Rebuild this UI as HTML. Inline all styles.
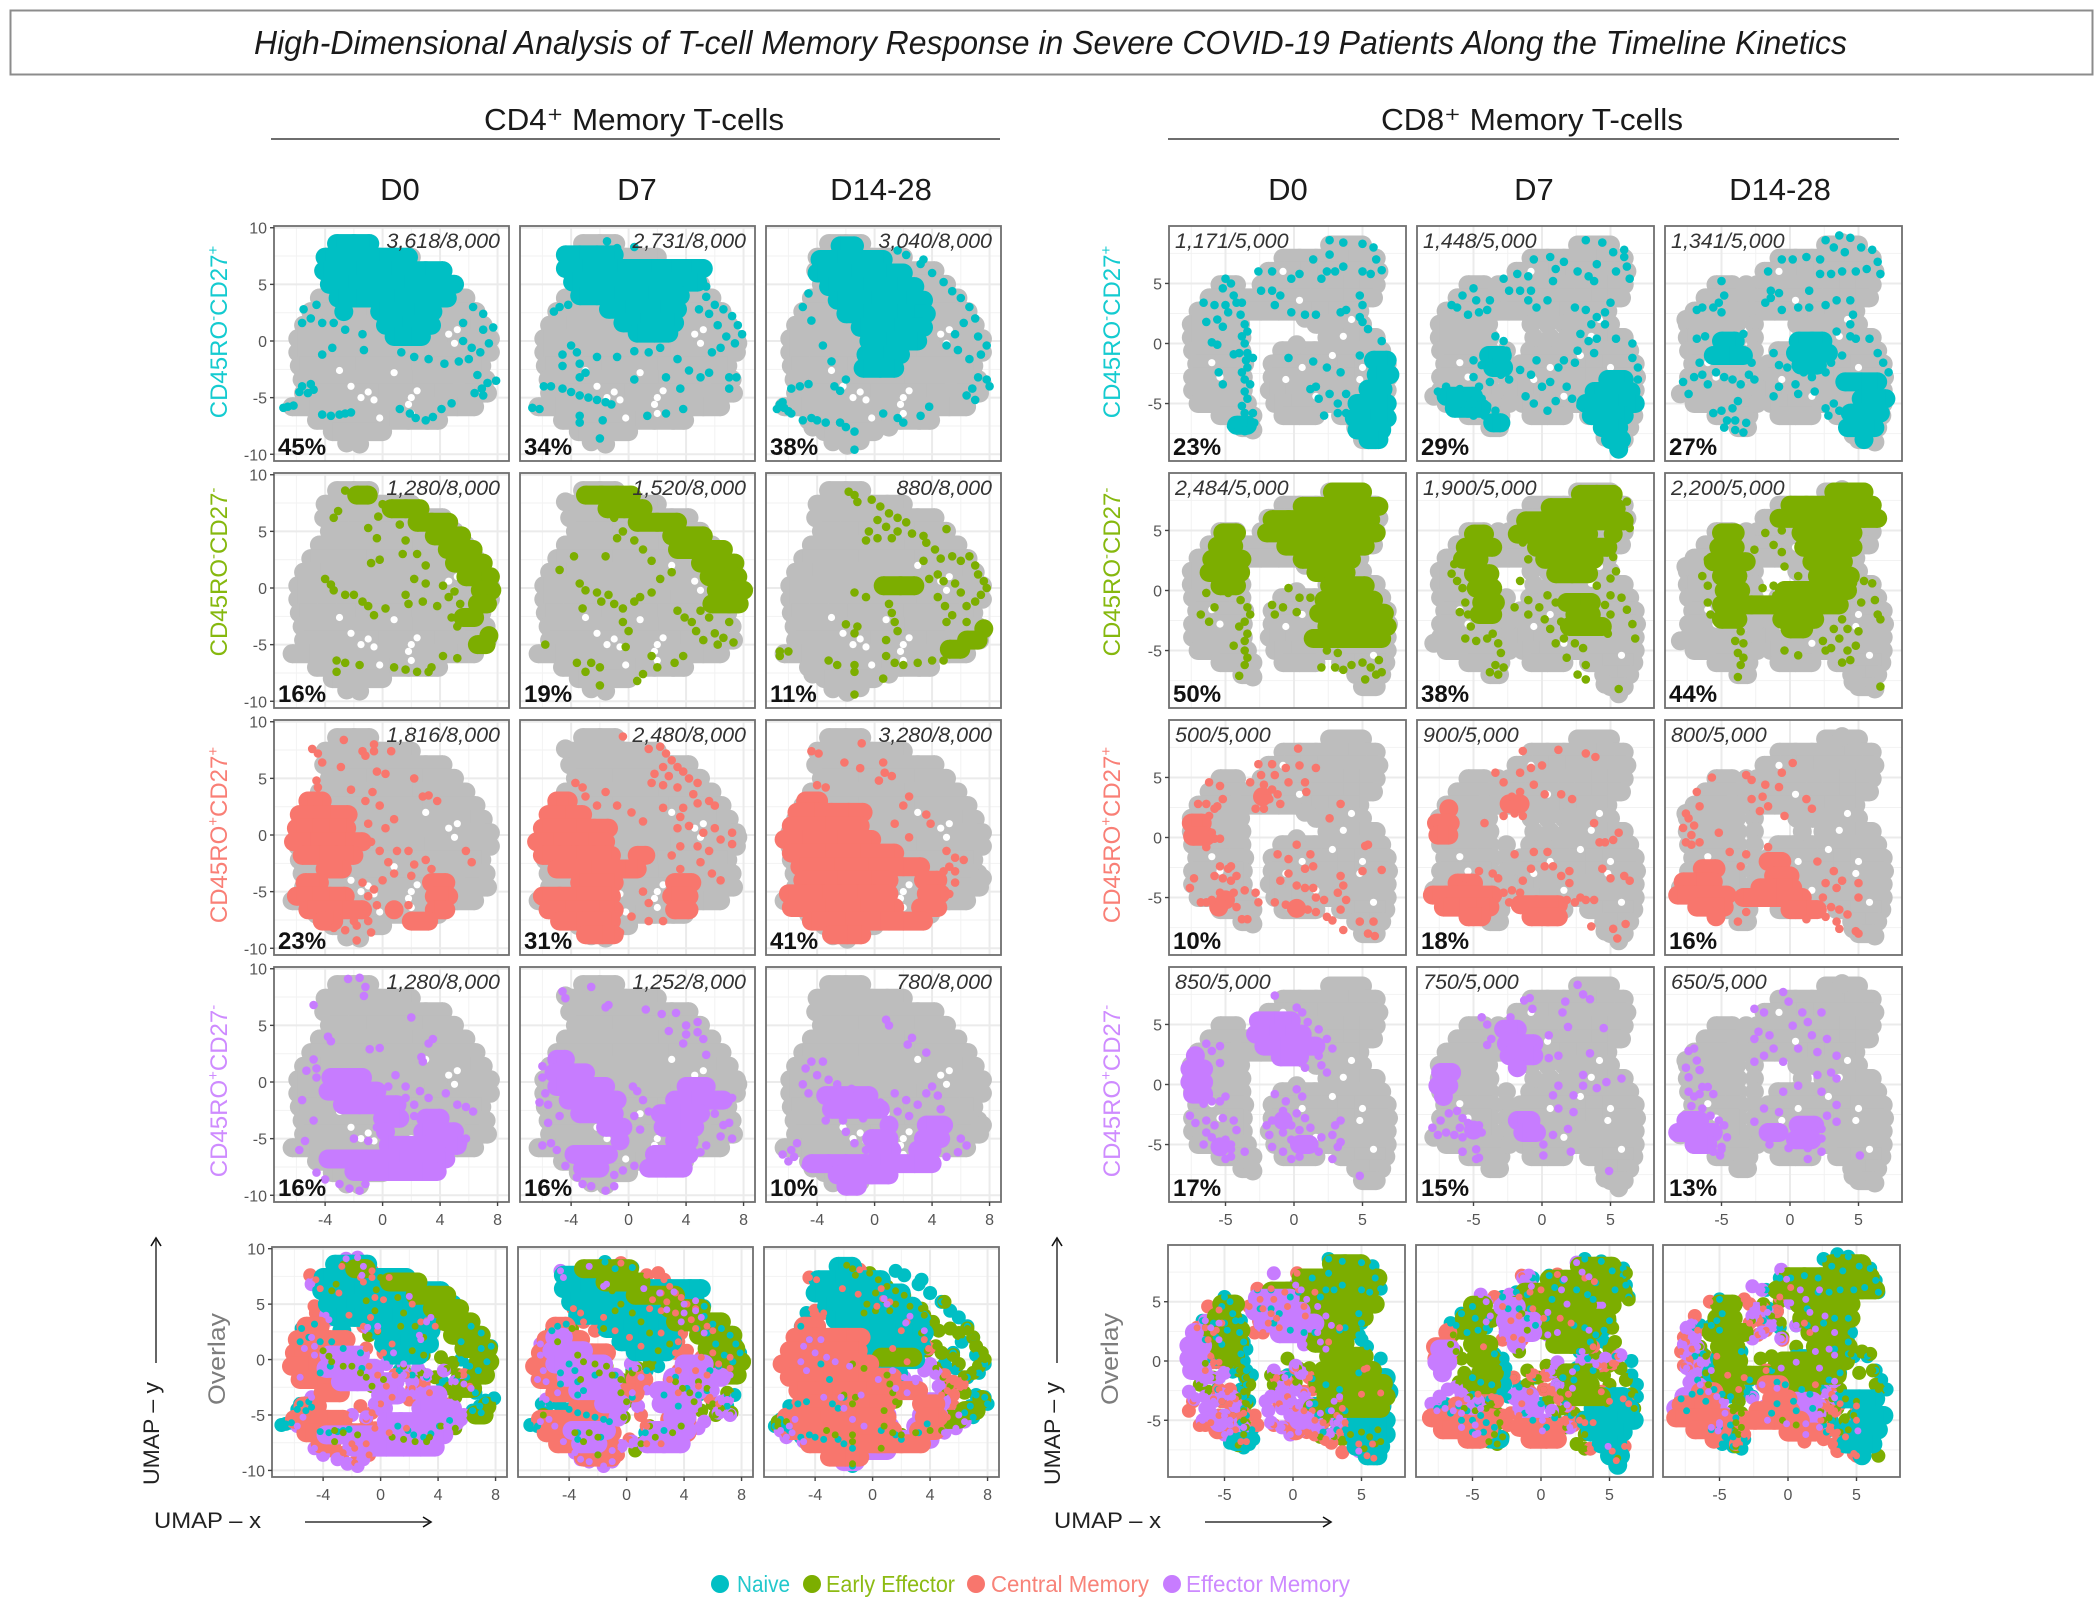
<!DOCTYPE html>
<html lang="en">
<head>
<meta charset="utf-8">
<title>High-Dimensional Analysis of T-cell Memory Response</title>
<style>
html,body{margin:0;padding:0;background:#fff}
svg{display:block}
text{font-family:"Liberation Sans",sans-serif}
.nar{font-family:"Liberation Sans Narrow","Liberation Sans",sans-serif}
</style>
</head>
<body>
<svg id="fig" xmlns="http://www.w3.org/2000/svg" width="2097" height="1608" viewBox="0 0 2097 1608">
<rect x="10.5" y="10.5" width="2082" height="64" fill="#fff" stroke="#8c8c8c" stroke-width="2"/>
<text class="nar" x="254" y="54" font-size="33" font-style="italic" fill="#1a1a1a" textLength="1593" lengthAdjust="spacingAndGlyphs">High-Dimensional Analysis of T-cell Memory Response in Severe COVID-19 Patients Along the Timeline Kinetics</text>
<text class="nar" x="484" y="130" font-size="31" fill="#1a1a1a" textLength="300" lengthAdjust="spacingAndGlyphs">CD4⁺ Memory T-cells</text>
<line x1="271" x2="1000" y1="139" y2="139" stroke="#6e6e6e" stroke-width="2"/>
<text class="nar" x="1381" y="130" font-size="31" fill="#1a1a1a" textLength="302" lengthAdjust="spacingAndGlyphs">CD8⁺ Memory T-cells</text>
<line x1="1168" x2="1899" y1="139" y2="139" stroke="#6e6e6e" stroke-width="2"/>
<text class="nar" x="400" y="200" font-size="31" text-anchor="middle" fill="#1a1a1a">D0</text>
<text class="nar" x="637" y="200" font-size="31" text-anchor="middle" fill="#1a1a1a">D7</text>
<text class="nar" x="881" y="200" font-size="31" text-anchor="middle" fill="#1a1a1a">D14-28</text>
<text class="nar" x="1288" y="200" font-size="31" text-anchor="middle" fill="#1a1a1a">D0</text>
<text class="nar" x="1534" y="200" font-size="31" text-anchor="middle" fill="#1a1a1a">D7</text>
<text class="nar" x="1780" y="200" font-size="31" text-anchor="middle" fill="#1a1a1a">D14-28</text>
<g id="panels"></g>
<g fill="#222" stroke="none">
<text transform="translate(159,1485) rotate(-90)" font-size="22" textLength="103" lengthAdjust="spacingAndGlyphs">UMAP – y</text>
<line x1="156" x2="156" y1="1363" y2="1240" stroke="#333" stroke-width="1.5"/>
<path d="M151 1246 L156 1238 L161 1246" fill="none" stroke="#111" stroke-width="1.6"/>
<text x="154" y="1528" font-size="22" textLength="107" lengthAdjust="spacingAndGlyphs">UMAP – x</text>
<line x1="305" x2="429" y1="1522" y2="1522" stroke="#333" stroke-width="1.5"/>
<path d="M423 1517 L431 1522 L423 1527" fill="none" stroke="#111" stroke-width="1.6"/>
</g>
<g fill="#222" stroke="none">
<text transform="translate(1060,1485) rotate(-90)" font-size="22" textLength="103" lengthAdjust="spacingAndGlyphs">UMAP – y</text>
<line x1="1057" x2="1057" y1="1363" y2="1240" stroke="#333" stroke-width="1.5"/>
<path d="M1052 1246 L1057 1238 L1062 1246" fill="none" stroke="#111" stroke-width="1.6"/>
<text x="1054" y="1528" font-size="22" textLength="107" lengthAdjust="spacingAndGlyphs">UMAP – x</text>
<line x1="1205" x2="1329" y1="1522" y2="1522" stroke="#333" stroke-width="1.5"/>
<path d="M1323 1517 L1331 1522 L1323 1527" fill="none" stroke="#111" stroke-width="1.6"/>
</g>
<g>
<ellipse cx="720" cy="1584" rx="9" ry="9" fill="#00BFC4"/>
<text class="nar" x="737" y="1592" font-size="23" fill="#22c8cc" textLength="53" lengthAdjust="spacingAndGlyphs">Naive</text>
<ellipse cx="812" cy="1584" rx="9" ry="9" fill="#7CAE00"/>
<text class="nar" x="826" y="1592" font-size="23" fill="#8dbb14" textLength="129" lengthAdjust="spacingAndGlyphs">Early Effector</text>
<ellipse cx="976" cy="1584" rx="9" ry="9" fill="#F8766D"/>
<text class="nar" x="991" y="1592" font-size="23" fill="#f88379" textLength="158" lengthAdjust="spacingAndGlyphs">Central Memory</text>
<ellipse cx="1172" cy="1584" rx="9" ry="9" fill="#C77CFF"/>
<text class="nar" x="1186" y="1592" font-size="23" fill="#cd8aff" textLength="164" lengthAdjust="spacingAndGlyphs">Effector Memory</text>
</g>
</svg>
<script>
// Values in UMAP units.
// *Rows arrays: each row is [y, x, x, x...] of large marks standing for dense cell masses.
// *Sparse / *Extra / *Gaps arrays: flat x,y pairs.
const cd4GrayRows=[
[8.6,-3.2,-2,-0.9],
[7.4,-4,-2.8,-1.5,-0.2,0.9,2],
[6.2,-4.1,-3,-1.8,-0.6,0.6,1.8,3,4.2],
[5,-3.7,-2.4,-1.1,0.2,1.5,2.8,4.1,5],
[3.8,-4.4,-3.1,-1.8,-0.5,0.8,2.1,3.4,4.7,5.8],
[2.6,-5,-3.7,-2.4,-1.1,0.2,1.5,2.8,4.1,5.4,6.5],
[1.4,-5.5,-4.3,-3,-1.7,-0.4,0.9,2.2,3.5,4.8,6.1,7],
[0.2,-5.9,-4.6,-3.3,-2,-0.7,0.6,1.9,3.2,4.5,5.8,7.1,7.5],
[-1,-5.9,-4.9,-3.6,-2.3,-1,0.3,1.6,2.9,4.2,5.5,6.8,7.5],
[-2.2,-5.8,-4.5,-3.2,-1.9,-0.6,0.7,2,3.3,4.6,5.9,6.9],
[-3.4,-5.6,-4.4,-3.1,-1.8,-0.5,0.8,2.1,3.4,4.7,5.8,7.2],
[-4.6,-5.5,-4.2,-2.9,-1.6,-0.3,1,2.3,3.6,4.9,5.7,6.7,7.3],
[-5.8,-6.3,-5.1,-3.8,-2.5,-1.2,0.1,1.4,2.7,4,5.2,6.4],
[-7,-4.6,-3.4,-2.1,-0.8,0.5,1.8,3.1,3.9],
[-8,-3.5,-2.3,-1,0]];
const cd4GrayD0Extra=[-2.5,-9,-1.6,-9.1];
const cd4GrayD7Extra=[-2.6,-8.9,-1.6,-9.1,-4.4,7.6,7.6,-0.2];
const cd4GrayD14Extra=[-2.9,-8.9,-1.9,-9.2,-1,-8.8,-4.3,-7.6,1,-7.6,7.5,-3.8];
const cd4GrayGaps=[-1,-4.5,-1.5,-5,-0.6,-5.2,-2.2,-4,2,-5,2.4,-4.4,1.8,-5.6,3,2,4.6,0.6,5.2,1,5,-0.2,-0.2,-6.8,-3,-2.6,0.8,-2.8,2,-6.4];
const cd8GrayRows=[
[8.2,2.6,3.8,5],
[7.1,-0.8,0.4,1.6,2.8,4,5.2,6],
[6,-1.9,-0.7,0.5,1.7,2.9,4.1,5.3,6.2],
[4.9,-5.4,-4.2,-2.4,-1.2,0,1.2,2.4,3.6,4.8,6],
[3.8,-6.2,-5,-3.9,-2.4,-1.2,0,1.2,2.4,3.6,4.8,5.8],
[2.7,-7,-5.8,-4.6,-3.9,-2.4,-1.1,0.1,1.3,2.5,3.7,4.8],
[1.6,-7.5,-6.3,-5.1,-3.9,1.6,2.8,3.9,5],
[0.5,-7.5,-6.3,-5,-3.8,2.4,3.6,4.8,6],
[-0.6,-7.4,-6.2,-5,-3.8,-0.9,0.3,1.5,2.7,3.9,5.1,6.4],
[-1.7,-7.1,-5.9,-4.7,-3.6,-1.6,-0.4,0.8,2,3.2,4.4,5.6,6.8],
[-2.8,-7.4,-6.2,-5,-3.7,-1.6,-0.4,0.8,2,3.2,4.4,5.6,6.9],
[-3.9,-7.4,-6.2,-5,-3.7,-1.8,-0.6,0.6,1.8,3,4.2,5.4,6.8],
[-5,-7,-5.8,-4.6,-3.4,-1.4,-0.2,1,2.2,3.4,4.6,5.8,6.8],
[-6,-5.4,-4.2,-3,-0.8,0.4,1.6,3.4,4.4,5.6,6.7],
[-7,-3.8,-3.1,4.5,5.5,6.4],
[-8,5,6]];
const cd8GrayD0Extra=[-3,-7.2,0.8,2.1,0.2,-0.1];
const cd8GrayD7Extra=[-3.2,4.9,-3.2,3.8,-3.2,2.7,-0.8,1.6,0.4,1.6,-0.6,0.5,0.6,0.5,1.8,0.5,-2.6,-0.6,-2.6,-1.7,-2.6,-2.8,-2.7,-3.9,-2.4,-5,5.6,-8.6,-7.9,-4.4,4.6,-7.8];
const cd8GrayD14Extra=[-3.2,4.9,-3.2,3.8,-3.2,2.7,-2.6,1.6,-2.6,0.5,0.5,1.6,0.9,0.5,-2.6,-0.6,-2.6,-1.7,-2.6,-2.8,-2.7,-3.9,-2.4,-5,-8,-4.2,-7.6,2,6.2,-8.2,3.8,8.4,4.6,-7.6];
const cd8GrayGaps=[-6,-1.6,-5.4,-2.8,-0.6,-3,0.6,-2,1.6,-4.4,2.8,-1,3.6,0.6,4.8,-3,4.2,2,0.4,3.6,-0.8,6,5.8,-5.4,5,-2];

const cd4NaiveD0Rows=[[8.6,-3.2,-2,-0.9],[7.4,-4,-2.8,-1.5,-0.2,0.9,1.8],[6.2,-4.1,-3,-1.8,-0.6,0.6,1.8,3,4.2],[5,-3.7,-2.4,-1.1,0.2,1.5,2.8,4.1,5],[3.8,-3.1,-1.8,-0.5,0.8,2.1,3.4,4.5],[2.6,-2.7,-0.2,1,2.2,3.5],[1.4,0.2,1.4,2.6,3.4],[0.4,0.8,2,2.7]];
const cd4NaiveD0Sparse=[-5.6,-4,-5.2,-4.6,-5,-3.8,-5.8,-4.5,-4.8,-4.3,-6.6,-5.8,-6.2,-5.7,-6.9,-5.9,-4.2,-6.5,-3.6,-6.6,-3,-6.5,-2.6,-6.4,-2.2,-6.3,1.2,-6,1.9,-6.4,2.3,-6.8,3,-7,3.5,-6.7,4.1,-6,4.8,-5.5,6.4,-4.6,6.9,-4.2,7.3,-3.7,7.9,-3.5,7,-4.8,6.6,-3,5.6,0,6.2,-0.6,6.8,-1,7.4,-0.2,6,-1.6,7,1,7.7,1.2,5.3,-1.8,4.3,-2,3.2,-1.6,2.2,-1.4,1.3,-1,5.6,1.6,7,2.4,6.3,3,-5.5,2.8,-5,2,-4.6,3.2,-4.2,1.6,-5.6,1.6,-3.4,1.6,-2.6,1,-1.4,0.6,-3.5,-0.6,-4.2,-1.2,-1.3,-0.8];
const cd4NaiveD7Rows=[[7.6,-4.4,-3.4,-2.2,-1],[6.4,-4.4,-3.2,-2,-0.8,0.4,1.6,3,4.4,5.2],[5.2,-3.9,-2.7,-1.5,-0.3,0.9,2.1,3.3,4.8],[4,-3.4,-2.2,-1,0.2,1.4,2.6,3.6],[2.8,-1.4,-0.2,1,2.2,3.4],[1.6,-0.4,0.8,2,3.2],[0.7,0.6,1.8,2.8]];
const cd4NaiveD7Sparse=[5.4,3.9,6,3.2,6.6,2.8,7.2,2.2,7.6,1.4,7.9,0.6,7.4,-0.2,6.8,0.4,6.2,1.4,5.6,2.4,6.4,-0.6,5.8,-1,4.9,2.8,5.4,4.8,-1.5,8.8,-0.8,8.2,0.4,8.3,-4.8,3,-5.2,2.6,-4.2,3.2,-4.6,-4.2,-4,-4.5,-3.4,-4.8,-2.8,-5,-2.2,-5.2,-1.6,-5.4,-1.2,-5.6,-5.9,-4,-5.4,-4,-6.7,-5.9,-6.2,-6,-4,-0.4,-3.6,-1,-4.6,-1.2,-3.4,-2,-4.6,-2.2,-3,-2.8,-3.4,-3.2,-2.2,-1.4,-0.8,-1.4,0.4,-0.9,1.4,-1,2.2,-0.6,3.4,-1.6,4.2,-2.6,5,-3.2,5.6,-2.8,3.6,-4.2,2.6,-3.2,0.4,-3.4,-1.8,-7,-3.4,-6.6,-3.4,-7.2,2.6,-6.4,3.8,-6,1.3,-6.6,-2,-8.6,7,-3.2,7.5,-3.2,7,-4.2];
const cd4NaiveD14Rows=[[8.4,-2.4,-1.4],[7.2,-3.8,-2.6,-1.4,-0.2,0.6],[6,-4,-2.8,-1.6,-0.4,0.8,2],[4.8,-3.2,-2,-0.8,0.4,1.6,2.8],[3.6,-2.6,-1.4,-0.2,1,2.2,3.4],[2.4,-2,-0.8,0.4,1.6,2.8,3.6],[1.2,-1,0.2,1.4,2.6,3.4],[0,-0.4,0.8,2,3],[-1.2,-0.6,0.6,1.8],[-2.4,-0.8,0.4,1.4]];
const cd4NaiveD14Sparse=[3.2,6.8,4,6,4.8,5.2,5.4,4.4,6,3.8,6.6,3,7,2,6.2,1.6,5.6,0.6,7.2,0.4,7.8,-0.4,7.4,-1.2,6.6,-1.6,5.8,-0.8,5,-0.4,3.4,7.2,2.2,7.6,1.6,8,-6.6,-5.6,-6.3,-5.9,-6,-6.2,-6.8,-6,-6.4,-5.4,-5.8,-6.4,-5,-7,-4.4,-6.8,-4,-7,-3.4,-7.2,-2.4,-7.2,-2,-7.6,-1.4,-8,-1.4,-9.6,-5.8,-4.2,-5.2,-4,-4.6,-3.8,-2.8,-4,-2.4,-4.4,-2,-3.4,-3,-1.8,-3.6,-0.4,0.6,-6.4,1.6,-6.8,2,-7.2,3.2,-6.6,3.8,-5.8,6.8,-4.2,7.2,-3.2,7.8,-3.4,8,-4,7,-5.2,6.4,-4.8,-4.6,4.2,-5,3,-4.4,1.8];

const cd4EarlyD0Rows=[[8.2,-1.8,-1],[7,0.6,1.6,2.6],[5.8,2.4,3.4,4.6],[4.6,3.6,4.7,5.5],[3.4,4.5,5.6,6.3],[2.2,5,6.1,7],[1,5.8,6.9,7.5],[-0.2,6.8,7.6],[-1.4,6.6,7.3],[-2.6,5.6,6.4],[-4.2,7.4],[-5,6.6,7.2]];
const cd4EarlyD0Sparse=[-2.6,8.6,-1.8,8.6,-1.4,8,-0.8,8,0,7.4,-0.3,6.3,-1,5.3,-0.4,4.4,1.2,5.6,1.6,4.2,1.4,3,2.4,3,3,2,2.2,0.8,3,0.4,1.6,-0.6,1.8,-1.4,2.8,-1.2,3.8,-1.6,4.6,-0.8,4.2,0.2,5,-0.3,5.4,-1.4,4.8,-2.6,5.2,-3.4,-3.1,6.8,-3.4,6.2,-0.8,2.2,-0.2,2.5,-4,0.8,-3.6,0.3,-3.4,-0.2,-2.6,-0.6,-2,-0.6,-1.4,-1.2,-1,-1.6,-0.6,-2.4,0.2,-1.8,-3.2,-6.4,-2.6,-6.6,-3.2,-7.4,-1.6,-6.8,0.8,-7,1.6,-7.2,2.4,-7.4,3.2,-7.4,3.4,-7,4.2,-6,5.2,-6.2];
const cd4EarlyD7Rows=[[8.2,-3,-1.9,-0.8,0.2],[7,-1.5,-0.3,1],[5.8,0.6,2,3.4],[4.6,3,4.1,5.2],[3.4,3.4,4.6,5.6,6.6],[2.2,5,6.2,7.4],[1,5.6,6.7,7.6],[-0.2,6.1,7.2,8],[-1.4,5.8,7,7.7]];
const cd4EarlyD7Sparse=[-1,6.2,-0.4,5,-0.8,4.4,0.4,4.2,1,3.4,1.6,2.4,-1.6,2.8,-3.8,2.8,-4.8,1.6,-3.4,0.4,-3,-0.2,-2.2,-0.4,-1.9,-1.2,-1.4,-0.6,-1,-1.4,-0.4,-1.8,0.4,-1.2,0.8,-0.8,1.6,-0.4,2.2,0.8,3,1.4,-3.2,-1.8,-0.4,-3,0,-3.8,-0.2,-5.2,3.4,-2,3.9,-2.6,4.4,-3,5,-2,5.6,-2.6,4.7,-3.8,5.2,-4.6,6,-4,6.6,-4.4,7,-3,7.3,-4.8,6.2,-5,3.8,-6,3.2,-6.6,1.6,-6,2,-7,1,-7.6,0.6,-8.2,-2,-7,-2.6,-6.6,-2,-8.6,-5.8,-5,-3,-7.4,-3.6,-6.6];
const cd4EarlyD14Rows=[[0.2,0.6,1.8,2.8],[-3.6,7.6],[-4.6,6.4,7.2],[-5.4,5.2,6]];
const cd4EarlyD14Sparse=[-1.8,8.5,-1.4,8.2,-1.2,7.6,-0.2,7.8,0.4,7.2,1,6.6,1.6,6.2,0.2,6,0.8,5.4,-0.4,5,-0.6,4.2,0.2,4.4,1.2,4.4,1.6,5,2.2,5.8,2.6,4.8,3.4,4.6,3.6,4,4.2,3.4,5,5.2,4.6,2.6,5.4,2.8,6,2.4,6.6,2.8,7,2,7.2,1.2,7.6,0.6,7.8,0,7.4,-0.6,7,-1.2,6.4,-1.6,6,-0.4,5.6,0.4,4.8,0.6,4.4,1.2,3.4,2.4,3.8,0.8,4.4,-0.8,4.9,-1.6,5.4,-2.4,6.4,-3,5,-3,1,-1.4,1.2,-2.2,1.4,-3,1.6,-3.8,0.8,-4.6,-1.4,-0.4,-0.6,-0.8,-1.2,-3.4,-2,-3.2,-1.4,-4,0.8,-6,1.4,-6.6,2,-6.8,3,-6.6,4,-6.4,4.8,-6.4,0.6,-8,-1.4,-9.4,-6.6,-5.6,-6,-5.6,-6.6,-6,-3.2,-6.4,-2.6,-6.8,-1.4,-6.8,-1.4,-7.4];

const cd4CentralD0Rows=[[3,-5.2,-4.2],[1.8,-5.8,-4.8,-3.6,-2.4],[0.6,-6,-4.9,-3.7,-2.5],[-0.6,-6.2,-5,-3.8,-2.6,-1.4],[-1.8,-5.6,-4.4,-3.2,-2],[-3,-4,-2.8],[-4.2,-5.4,-4.4,3.4,4.4],[-5.4,-6,-4.9,-3.7,-2.6,3.6,4.6],[-6.6,-5.2,-4,-2.8,-1.4,0.8,3.6,4.4],[-7.6,-4.2,-3.4,2,3.2]];
const cd4CentralD0Sparse=[-4.9,7.6,-4.5,7.2,-2.7,8.4,-1.4,7.4,-1.2,7,-0.6,7.4,-0.6,8,0.6,7.4,-4.2,6.4,-2.9,6,-0.4,5.6,0.2,5.4,2.2,5,-4.6,4.8,-4.5,4.2,-2.2,4,-0.7,3.8,3.2,3.5,3.8,3,2.8,3.4,-1.2,3,-0.2,2.6,0.8,1.4,0.2,0.6,-1,1,-0.8,-0.6,-0.2,-1.4,0.4,-2.4,1,-1.4,1.8,-1.4,2.2,-2.6,3,-2.2,3.4,-3,2,-3.6,0.8,-3.4,0,-4,-0.6,-4.8,-1.4,-4.2,-1,-5.4,-0.4,-6.2,0.6,-6.6,1.8,-6.2,-1,-7.6,-1.8,-8,-2.6,-8.4,-1.8,-9.3,-0.8,-8.6,-3.4,-8.2,-2,-7.6,5.8,-1.4,6.2,-2.4];
const cd4CentralD7Rows=[[3,-5,-4.2],[1.8,-5.6,-4.4,-3.2],[0.6,-6,-4.8,-3.6,-2.4,-1.4],[-0.6,-6.4,-5.2,-4,-2.8,-1.6],[-1.8,-6,-4.8,-3.6,-2.4,-1.2,0.6,1.2],[-3,-5,-3.8,-2.6,-1.4,-0.2,0.6],[-4.2,-3.4,-2.2,-1,3.2,4.4],[-5.4,-6,-4.8,-3.6,-2.4,-1.2,3,4.2],[-6.6,-5.6,-4.4,-3.2,-2,-1,3.2,4.2],[-7.6,-4.8,-3.6,-2.4,-1.2],[-8.8,-3,-1.8,-1]];
const cd4CentralD7Sparse=[-0.4,8.7,1.4,7.6,2.2,7.8,2.6,7.2,3,6.6,2.4,6,1.8,5.4,2.8,5.2,3.4,6,3.8,5.6,4.2,5,4.8,4.6,1.6,4.6,2.4,4.4,3.4,4.2,4.5,3.6,4.8,2.8,5.6,3,6,2.6,3.8,2.4,2.4,2.4,3.6,1.6,1,1.2,3.4,0.6,4.2,0.8,-3.7,4.6,-3.2,4.2,-1.6,3.8,-3,3.4,-2.2,2.6,-0.8,2.6,0.2,2,5.2,0.2,6,0.6,7.2,0.2,6.4,-0.4,7.2,-0.8,5.6,-1.4,4.8,-1,3.6,-1,3,-1.8,3.6,-3,5,-2.4,5.8,-3.4,6.4,-4,1,-5,1.4,-6,0.2,-7.2,1.4,-7.6,2.4,-7.6,-0.6,-8.6];
const cd4CentralD14Rows=[[3,-4.8,-3.9],[2,-5.4,-4.2,-3,-1.8,-0.8],[0.8,-5.8,-4.6,-3.4,-2.2,-1],[-0.4,-6.3,-5,-3.8,-2.6,-1.4,-0.2],[-1.6,-5.8,-4.6,-3.4,-2.2,-1,0.2,1.4],[-2.8,-5.2,-4,-2.8,-1.6,-0.4,0.8,2,3.2],[-4,-5,-3.8,-2.6,-1.4,-0.2,1,3.4,4.4],[-5.2,-6,-4.8,-3.6,-2.4,-1.2,0,1,3.6,4.6],[-6.4,-5.8,-4.6,-3.4,-2.2,-1,0.2,1.4,3.2,4.4],[-7.6,-4.4,-3.2,-2,-0.8,0.4,2,3.4],[-8.8,-3,-1.9,-0.9]];
const cd4CentralD14Sparse=[-4.4,7.4,-3.9,7.2,-0.9,8.1,-2.1,6.4,-1,5.9,0.6,6.4,0.7,5.5,1.2,5.2,0.3,4.8,-4,4.4,-3.4,4.2,2.4,3.4,2,2.6,3.6,1.8,3.9,1,1.4,1,2.4,-0.2,5,-1.4,5.6,-2,6.2,-2.2,5.2,-2.8,5.6,-3.2,4.8,-3.2,5.6,-4.2,5.2,-5.2];

const cd4EffectorD0Rows=[[0.4,-3.6,-2.5,-1.4],[-0.8,-3.8,-2.6,-1.4,-0.4],[-2,-2.8,-1.6,-0.4,1],[-3.2,0,1.2,3,4],[-4.4,0.2,2.8,4.2,5],[-5.6,0.4,1.4,3,4.2,5.2],[-6.8,-3.8,-2.6,-1.4,-0.2,1.2,2.4,3.4,4.4],[-7.9,-2,-0.8,0.4,1.6,2.8,3.8]];
const cd4EffectorD0Sparse=[-2.4,9.1,-1.6,9.2,-1.2,8.4,-1.3,7.6,-4.8,6.8,2,5.7,3.5,3.8,3.2,3.4,2.7,2.2,2.8,1.8,-3.8,4,-3.6,3.6,-0.9,2.9,-0.2,3,-4.8,2,-4.6,1.2,-5.3,1,-4.6,0.4,-5.6,-1.6,-4.8,-3.4,-5.8,-6,-5.4,-5.2,-4.6,-8,-4,-8.6,-3,-9,-2.3,-9.4,-1.6,-9.6,-1.2,-9,0.4,-0.4,0.9,0.6,1.6,-0.4,2.6,-0.8,3.2,-1.4,4.4,-1,5.2,-2,5.8,-2.2,6.3,-2.6,-0.4,-4,-1,-5.2,-2,-5,4.6,-6,5.6,-5.4,5.8,-5,1.6,-1.4,2.2,-2,2.2,-3];
const cd4EffectorD7Rows=[[2,-5,-4.4],[0.8,-5.2,-4,-3],[-0.4,-5,-3.8,-2.6,-1.6,4,5.4],[-1.6,-4.2,-3,-1.8,-0.8,3.2,4.4,5.6,6.6],[-2.8,-3.4,-2.2,-1,2.2,3.6,5],[-4,-1.6,-0.4,2.4,3.6,4.6],[-5.2,-0.6,3.2,4.2],[-6.4,-3.8,-2.6,-1.4,1.8,3,4.2],[-7.6,-3.2,-2,1.4,2.6,3.8]];
const cd4EffectorD7Sparse=[-4.6,8,-4.4,7.4,-2.6,8.4,-1.6,6.6,-1.4,6.8,1.2,6.4,2.3,6,3.3,6.1,2.8,4.5,4,5,4.8,5.3,4,4.2,4.8,4.4,5.2,3.8,3.8,3.4,5.4,2.4,-6,1.4,-6,0.4,-5.8,-1,-6.2,-1.8,-5.6,-2,-4.8,-3,-4.2,1.8,-5.6,-3.6,-6,-5.6,-5.4,-5.4,-5,-6,-4.4,-7.4,-3.6,-8.4,-3.2,-9,-2.6,-9.2,-1.6,-9.6,-1,-9.2,-1,-8.2,-0.4,-7.8,0.4,-7.4,0.6,-0.8,1,-1.6,1.4,-2.6,0.4,-3,0.8,-4.2,0.3,-0.4,6,-2.8,7.2,-1.4,7,-3.6,6.6,-3.8,7.2,-5,6.4,-4.8,5.4,-5.6,5,-6.2];
const cd4EffectorD14Rows=[[-1.2,-3.4,-2.4,-1.4,-0.4],[-2.4,-3,-1.8,-0.6,0.4],[-3.8,1,3.6,4.8],[-5,-0.2,1,3.4,4.6],[-6,0.2,1.2,3,4],[-7.2,-4.4,-3.2,-2,-0.8,0.4,1.6,2.8,4],[-8.2,-2.6,-1.4,-0.2,1],[-9.2,-2,-1.2]];
const cd4EffectorD14Sparse=[0.8,5.5,1,5,2.6,3.9,2.3,3.3,3.6,2.6,-4.4,1.8,-3.6,1.8,-4.8,1.2,-5,-0.2,-4.6,-1,-4,0.6,-3.2,0.2,-2.6,-0.2,-1.6,-0.6,1.4,-1,2.2,-1.6,3,-2,3.6,-1,4,-0.4,4.4,-1.2,4.6,-2.4,1.6,-2.6,2.4,-3,0.4,-1.8,-0.8,-3.2,-5.4,-5.4,-5.8,-6,-6.4,-6.4,-5.6,-6.6,-6,-7,-4.8,-7.4,6,-5,6.4,-5.6,5.8,-6.2,5,-6.6,-3.4,-3.4,-2.2,-3.4,-2,-4.4,-1.4,-5.4,-0.6,-6];

const cd8NaiveD0Rows=[[-1.4,5.8,6.8],[-2.6,6,7],[-3.8,5.4,6.5],[-5,4.6,5.8,6.8],[-6.2,4.4,5.6,6.8],[-6.8,-4.2,-3.4],[-7.2,4.6,5.8,6.4],[-8,5.4,6.2]];
const cd8NaiveD0Sparse=[-4.6,-6.9,-4,-7.1,-3.6,-7.3,-3.2,-7,-2.9,-6.6,-3,-5.8,-3.6,-5.8,-3.8,-6.5,-3.8,0.6,-3.6,0,-3.4,-0.8,-4,-0.8,-3.5,-1.4,-4.4,-0.9,-3,-1.2,-3.4,-2,-3.8,-2.4,-3.6,-3,-3.2,-3.4,-3.6,-4,-3.4,-4.6,-3.8,-5.2,-5.5,-2.4,-5.2,-3.4,-5,5.4,-4.6,5,-5.2,4.6,-4.4,4,-4.2,3.4,-5,3.2,-4.8,2.6,-3.8,3.4,-3.9,2.4,-5.8,3.2,-6.6,3.4,-6.4,1.8,-5.6,2,-5.2,1.4,-3.6,1.6,-3.4,1,-6,0.1,-5.6,-0.1,2.6,8.6,3.6,8.4,5,8.3,5.8,8,6,7,6.4,6.1,5.6,5.8,5,6,3.6,6.4,3,6,2.4,6,2,5.4,2.6,7.4,1.4,7,0.4,5.8,-0.2,5.4,-1.6,6,-2.6,6,-2.4,4.4,-1.6,4.4,-1,4,-1.4,3.2,-0.2,2.6,0.8,2.4,1.6,2.4,3.4,2.6,3.8,2.8,4.8,4,5,3.2,4.8,2.2,5,1.8,5.4,1.2,6.4,0.2,-0.4,-1.2,1.4,-1.5,2.4,-2,3.4,-2.4,4.8,-1,1.6,-3.6,1.2,-3.8,1.8,-4.6,2.6,-4.2,3.2,-5,3.8,-4.2,3.2,-5.8,3.8,-5.8,2.2,-6];
const cd8NaiveD7Rows=[[-1,-3.9,-2.9],[-2,-3.6,-2.8],[-3,4.8,6],[-4,3.8,5,6.5],[-4.4,-7,-6,-5],[-5,3.2,4.4,5.6,6.8],[-5.4,-6.4,-5.4,-4.4],[-6,3.6,4.8,6],[-6.6,-3.6,-3],[-7,4.4,5.6],[-8,5,5.8],[-8.8,5.6]];
const cd8NaiveD7Sparse=[-7.6,-4,-7,-3.6,-6.6,-4.4,-6,-3.8,-5.4,-4.2,-5.8,-5,-5,-5,-4.4,-4.6,-4,-5.2,-4.2,-6,-5,-6,-3.4,-5.6,-4.6,-3.6,-5,-2.8,-3.8,-3.2,-4.4,-1.8,-5,-1.4,-3.6,-2,-2.6,-1.8,-2.6,-0.6,-2.8,0.2,-3.4,0.6,-3,-2.6,-2.4,-3,-1.6,-2.2,-0.8,-2.6,-0.4,-1.4,0,-3.6,0.6,-3.2,1.2,-2,1.6,-1.4,2.4,-1.6,2.6,-0.6,3.4,0.2,3.8,-0.8,2.8,0.8,4,0.4,5.4,0.4,6.6,0,6.6,-1.2,7,-2,7,-3,-1.2,-4.4,-0.6,-5,0.4,-5.6,1,-4.8,1.8,-3.6,2.2,-4.6,2.8,-5.2,-6.6,3.2,-6.2,3,-5.8,4,-5,4.6,-4.8,3.6,-5.4,2.4,-4.6,2.6,-4,2.8,-3.8,3.6,-2.8,5.4,-2.4,4.4,-1.8,5.8,-1,5.6,-1.6,4.4,-1,3.6,-0.8,4.4,-0.4,3,0.4,3.6,0.8,5.2,1,6.2,1.6,6.8,2.6,6,3.4,5.6,3.8,5.2,4,6.6,5.4,6,6.2,6.4,6.4,5.4,6,7.2,5.2,7.6,4.4,8.4,3.2,8.6,6,7.8,0.6,7.2,-0.6,7,2.4,3,3.2,2.8,4,2.2,4.6,2.6,3.6,1.6,4.6,1.6,5,3.4];
const cd8NaiveD14Rows=[[0.2,-5,-4,0.6,1.6,2.4],[-0.8,0.4,1.6,2.8],[-1,-5.6,-4.4,-3.4],[-1.8,0.8,2],[-3.2,4,5.2,6.4],[-4.6,5.2,6.2,7],[-5.8,4.4,5.4,6.6],[-7,4.2,5.4,6.2],[-8,5.4]];
const cd8NaiveD14Sparse=[-7,-2.8,-7.8,-3.2,-7.4,-4.2,-6.4,-2.6,-6,-3.4,-5.4,-2.4,-4.8,-2.8,-4.2,-3,-6.6,-1.6,-6.8,0.4,-6.2,0.6,-3.4,0.8,-2.8,-1.6,-3,-2.6,-3.6,-3.4,-2.6,-3,-0.8,-1.8,-1.2,-0.8,-0.2,-2,1,-2.4,1.6,-2.8,2.6,-2.4,3,-1.6,3.8,-1,0.4,-3.4,0.6,-4.2,-0.8,-3.6,-1.2,-4.4,1.8,-4,2.6,-5.4,2.8,-6,3.6,-5.6,3.2,-5,6.8,-1.6,7.2,-2.4,6.4,-0.8,5.8,0.4,4.4,0.6,-5,-5.6,-5.6,-5.8,-4.6,-6.4,-4.8,-7,-4,-7.2,-3.4,-7.4,-4,-6.4,-3.2,-6.6,-4.2,-5.4,-3.8,-4.8,2.6,8.6,3.6,9,4.4,8.8,3.2,8,4,7.6,5.2,8,6,7.8,6.4,6.8,6.6,5.8,5.6,6.2,4.8,6,3.8,6,3,5.8,2.2,5.8,2.2,7,1.2,7.2,0.2,7,-0.6,7,-1.6,6,-1.4,4.4,-1.4,3.8,-1.8,3.4,-0.8,4.2,-0.6,2.8,0.6,3,1.4,4.4,1.4,3,2.6,3.2,3.4,3.6,4.4,3.6,4.6,2.4,3.4,1,4.4,1.6,4.8,0.4,-5,5.2,-4.8,4,-5.2,3.4,-5.6,3,-6.4,3,-6.8,2.8,-5,2.6];

const cd8EarlyD0Rows=[[8.2,2.8,3.8,5],[7,0.6,1.8,3,4.2,5.4,6.2],[5.9,-1.6,-0.4,0.8,2,3.2,4.4,5.6],[4.8,-5.2,-4.2,-2,-0.8,0.4,1.6,2.8,4,5.2,6],[3.7,-5.6,-4.4,-0.6,0.6,1.8,3,4.2,5.2],[2.6,-6,-4.8,-3.8,0.6,1.8,3,4.2],[1.5,-6.2,-5,-3.9,1.6,2.8,3.8],[0.4,-5.4,-4.2,2.6,3.8,5.2],[-0.8,2.2,3.4,4.6,5.8],[-1.9,1.8,3,4.2,5.4,6.6],[-3,2.4,3.6,4.8,6,6.8],[-4,1.4,2.6,4,5.2,6.4]];
const cd8EarlyD0Sparse=[-4.8,-0.2,-3.9,-0.8,-3.4,-1.4,-3.2,-2,-3.6,-2.6,-4,-3,-3.4,-3.6,-3.6,-4.2,-4.4,-4.6,-3.6,-5,-3.4,-5.6,-3.6,-6.2,-4,-7.1,-6.4,-0.2,-6.8,-2,-6.2,-2.6,-5.8,-1.4,-1.6,-1.2,-1.4,-2,-0.4,0.2,0.4,-0.6,0.2,-1.8,1.2,-0.6,-0.8,-1.4,2.4,-5,3.2,-5.2,2,-6.4,3,-6.4,3.6,-6.6,4.2,-6.2,5,-6,5.6,-6.4,6.2,-5.8,5.2,-7.4,6,-7,6.4,-6.8];
const cd8EarlyD7Rows=[[8,2.8,4,5.2],[6.9,0.6,1.8,3,4.2,5.4],[5.8,-1.2,0,1.2,2.4,3.6,4.8,6],[4.7,-5,-4.2,-1.8,-0.6,0.6,1.8,3.4,5.2],[3.6,-5.6,-4.6,-3.6,-0.4,0.8,2,3.4,4.8],[2.6,-5.8,-4.6,0.2,1.4,2.6,3.8],[1.4,-5,-3.8,1,2.2,3.4],[0.2,-4.8,-3.6],[-1,-4.4,-3.4,1.8,2.8,3.6],[-2,-4.6,-3.6,2.4,3.6],[-3,2,3.2,4.4]];
const cd8EarlyD7Sparse=[-6.4,2.2,-6.6,1.4,-6.2,0.8,-5.8,0.2,-5.6,-1,-6,-1.8,-5.4,-2,-5.2,-3,-5.6,-4,-4.8,-4.2,-4,-4,-3.6,-3.6,-3.2,-4.4,-3,-5.2,-3.4,-6.2,-3.8,-6.8,-3.2,-7,-2.8,-6.4,-1.6,0.8,-2,-1.4,-1,-0.8,-1,-2,-0.2,-1.4,0.2,-2.4,0.4,-0.4,1,-1,1.4,-2.6,0.6,-3.2,1,-4.4,1.6,-4,1.8,-5.6,2.4,-4.4,3,-4.8,3.2,-6.2,4.6,-1.2,5,-0.4,5.8,-0.6,6.2,-1.6,6.6,-2.8,6.8,-4,5,-2,4.8,-3.6,4,0.4,5,1,5.4,1.6,5.2,2.8,5.8,6.8,6.2,7.4,6.4,5.2,2.6,-7,3.2,-7.4,5.6,-8.2,-1.4,4,-1,2.6];
const cd8EarlyD14Rows=[[8.2,3.2,4.4,5.4],[7.1,0,1.2,2.4,3.6,4.8,6],[6,-0.8,0.4,1.6,3,4.2,5.4,6.4],[4.8,-5,-4,0.8,2,3.2,4.6],[3.6,-5.2,-4,1,2.2,3.4,4.6],[2.4,-5.6,-4.4,-3.2,1.6,2.8,3.9],[1.2,-5,-3.8,2,3.2,4.4],[0,-4.8,-3.6,-0.4,0.8,2,3.2,4.2],[-1.2,-5,-3.8,-2.8,-1.2,0,1.2,2.4,3.6],[-2.4,-5,-3.8,-0.6,0.6,1.8],[-3.2,0,1]];
const cd8EarlyD14Sparse=[-6,2.6,-6.4,1.2,-6,0.4,-6,-1,-5.8,-2,-2.6,3.4,-1.8,4.8,-1.2,3.8,-0.6,5,-0.6,3.2,-0.4,2,0.6,1.2,-2,0.2,-1.2,0.4,-1,-0.4,4.6,0.6,5.4,0.8,6,0.6,6.2,-0.8,6.4,-2,6.6,-2.4,5.2,-1,3.8,-2.4,3.2,-3.2,4.2,-3.2,5,-3.4,3.6,-4,2.4,-4.2,3,-4.8,2.6,-5,4.2,-5,4.8,-4.6,3.8,-6,4.4,-5.8,-3.6,-3.4,-3.4,-4.4,-4,-4.2,-3.8,-5.2,-3.4,-5.6,-3.6,-6.2,-3.8,-7.2,-0.4,-5,0.6,-5.4,6.6,-8];

const cd8CentralD0Rows=[[3.4,-2.3],[1.2,-7.5,-6.7],[0.1,-7.4,-6.4],[-5.2,-5],[-5.8,-5.5],[-5.9,0.2]];
const cd8CentralD0Sparse=[-7,2.8,-6.4,2.8,-5.8,2.4,-6.2,1.8,-5.6,2.6,-5.2,3.2,-6,0.4,-5.8,-0.1,-5.4,-0.1,-6.4,-0.8,-6.2,4.6,-5.4,4.3,-5.4,-2.4,-4.8,-2.6,-4.6,-2.4,-5.8,-3.2,-5.2,-3.4,-4.6,-3.6,-4.2,-3.2,-7.3,-3.4,-7.6,-4.2,-6.8,-5.4,-6.4,-5.4,-6,-5.2,-5.4,-4.6,-4.4,-4.6,-3.6,-4.4,-2.8,-4.6,-4.2,-5.8,-3.8,-6.8,-3.4,-6.8,-2.6,-5.4,-3.2,4.6,-2.6,6.1,-2.4,5.2,-1.6,6.1,-1.4,5.2,-0.6,5.8,0.4,6,0.3,7.4,-0.4,4.6,0.8,4.6,1.6,5.8,0.9,3.8,3.4,2.8,2.6,1.6,-2.8,2.4,-2.2,2.4,-1.8,3.2,-1.2,3.6,-1,2.8,-2.2,4.4,-1.6,4,-1.2,-1.4,-0.4,-1.8,0.2,-0.6,1.2,-1.4,1.4,-2.4,0.8,-2.6,-0.4,-3,-1,-3.6,0.2,-4,0.8,-4.2,1.4,-4.2,1.6,-5,2.2,-5.2,3.4,-3.2,3.6,-4,3.2,-4.6,3.8,-5.2,3.4,-6,2.4,-6.6,2.8,-6.9,-1.4,-5.4,-0.6,-5.6,-0.2,-6,1,-6,1.6,-6.2,5.2,-0.7,5.4,-0.6,6.4,-2.7,5,-2.8,3.6,-7.7,4.8,-7,5.8,-7,5.4,-8,5.9,-8.2];
const cd8CentralD7Rows=[[2.8,-2.4,-1.6],[2.4,-6.8],[1.2,-7.7,-6.7],[0.2,-7.6,-6.8],[-3.8,-6.2,-5],[-4.8,-8,-7,-5.8,-4.6,-3.6],[-5.6,-1.6,-0.4,1.2],[-5.8,-7.2,-6,-4.8,-3.8],[-6.6,-5.4,-4.4,-0.8,0.4,1.2]];
const cd8CentralD7Sparse=[-2.8,1.8,-2,2,-1.4,1.8,-1.6,3.8,-2.2,3.4,-2.8,4.6,-3.4,5.4,-1.6,5.4,-0.8,5.8,0,6,-0.6,4.4,0.2,3.6,1.4,3.6,2.2,3.2,-1.4,7.2,1.2,7.3,3.2,7,3.9,6.7,-4.2,1.2,-5.6,-3.4,-4.6,-2.8,-3.6,-3,-3.2,-3.4,-2.8,-4.6,-2.2,-4.4,-2.4,-5.4,-1.6,-4.6,-1.4,-3.6,-0.8,-2.6,0.4,-1.2,-0.6,-1.2,-2,-1.4,0.2,-2.4,0.8,-2.4,1.4,-3.2,2,-2.8,2,-3.8,2.8,-5,2.4,-5.4,1.8,-5.2,3.2,-5.2,3.8,-5.2,4.2,-0.4,4.6,-0.4,5.2,-0.2,5.6,0.4,3.8,1.2,4.4,-2.6,5,-3.4,6,-3.2,6.4,-3.6,3.6,-7.4,5.2,-7.6,5.5,-8.4,6.1,-7.2];
const cd8CentralD14Rows=[[-2,-1.6,-0.6],[-2.6,-6.4,-5.4],[-3.2,-1.2,0],[-3.7,-7.8,-6.8,-5.6],[-4.2,-2.2,-1,0.2],[-4.8,-8.2,-7,-5.8,-4.6],[-5,-3.4,-2.4,-1,0.4,0.9],[-5.8,-6.8,-5.8,-4.8],[-6,0,1.2,2],[-6.6,-5.4]];
const cd8CentralD14Sparse=[-7.6,2,-7.4,1.6,-7,1,-7.8,0.8,-7.2,0.2,-7.6,-0.4,-7.2,-0.6,-6.6,-0.4,-5.2,0.4,-6.6,2.6,-5.7,5,-6.8,3.8,-3.2,5.2,-2.8,4.8,-2.8,3.2,-2,3.4,-1.8,4.4,-1.6,2.6,-2.2,2.2,-0.8,4.2,-0.6,5.4,0.2,6.2,1.2,3.2,1.6,2.4,-0.4,1.8,-3.6,-2.4,-3.2,-1.4,-4.4,-1.2,2,-2,2.6,-3.8,3.2,-2.8,3.4,-4.2,3.8,-3.6,5,-3.8,5,-5,2.4,-5,3,-5.8,3.6,-6,4.2,-6.4,2.6,-6.6,1.2,-6.8,3.4,-7,-3.8,-7,-3.2,-6.2,3.6,-7.6,4.8,-7.8,5,-8,-1.6,-0.8];

const cd8EffectorD0Rows=[[5.3,-2.6,-1.4,-0.2],[4.2,-2.8,-1.8,-0.6,0.6],[3.2,-2.2,-1,0.2,1.6],[2.4,-7.2],[2.3,-1,0.4],[1.3,-7.6,-6.6],[0.2,-7.6,-6.6],[-0.8,-7.4,-6.6],[-3,-0.8],[-5,0.4,1.1],[-5.2,-5.4]];
const cd8EffectorD0Sparse=[-6.4,3.4,-6,2.8,-5.4,3.2,-5.4,1.8,-6.6,-1.6,-6,-1.4,-5.4,-1.4,-5,-1,-7.6,-2.6,-7.2,-3.2,-6.4,-3,-5.8,-3.4,-5.2,-2.8,-4.4,-3,-4.2,-3.8,-6.4,-4,-6,-4.4,-5,-4.6,-4.6,-5,-6.6,-5,-4.6,-6,-5,-6.2,-3.6,-5.6,-4.6,-5.4,0.6,6,0.2,6.4,-1.4,7.4,1,5.2,1.8,4.6,2.4,3.8,2.8,3,1.8,2.4,2,1.6,2.4,1,0.8,1.4,-1.4,-0.8,-0.6,-1.4,0.2,-0.4,0.6,-1,-0.8,-2.2,0.2,-2.4,0.8,-2.8,-0.2,-3.4,0.4,-3.8,1.2,-3.6,-1.6,-3,-2,-3.4,-1.8,-4.2,-0.8,-4,-0.2,-4.6,1.2,-4.6,2,-4.4,2.8,-4.2,3,-3.4,3.4,-3,3.4,-4.8,3.2,-5.2,1.8,-5.6,0.4,-6,-0.2,-6.2,2.8,-6.2,-1.6,-5.2,-0.8,-5.6,4.8,-7.6];
const cd8EffectorD7Rows=[[4.6,-2.8,-1.8],[3.4,-2.6,-1.6,-0.6],[2.4,-2.4,-1.6,-0.6],[1.4,-1.8],[1,-7.4,-6.6],[-0.1,-7.6,-6.8],[-1,-7.2],[-3,-1.8,-0.8],[-3.8,-5],[-4,-1.4,-0.4]];
const cd8EffectorD7Sparse=[-8,-3.6,-7.4,-3,-6.8,-2.4,-6.2,-2.2,-5.8,-2.8,-5.4,-3.2,-4.6,-3.4,-7.6,-4.2,-7,-4,-6.4,-4.2,-5.8,-4.4,-6,-3.6,-4.4,-4,-5.8,-5.6,-4.8,-5.4,-4.8,-6.2,-0.9,7.2,-1.3,7,2.6,8.3,3,7.5,3.5,7.1,1.7,6.9,1.5,6,-0.7,6.3,-2.3,5.6,-4.4,5.6,-4,5,1.9,4.8,0.5,4.1,-0.6,3.6,-3.7,3.8,-4,3.3,3.5,2.6,4.5,4.7,1.2,2.4,0.5,2.2,4.7,0.2,5.8,0.5,4,-0.3,3,0.8,3,-0.1,2.3,-0.9,1.2,-0.1,0.8,-0.9,1.2,-2,2.3,-2.3,0.8,-4.2,1.9,-3.7,0.1,-5.9,2.1,-5.6,0.1,-5,-0.9,-4.2,-5.8,-5.6,-4.6,-6.1,4.9,-7.2];
const cd8EffectorD14Rows=[[-3,-7.6,-6.6],[-3.4,0.6,1.8],[-4,-8.2,-7.2,-6.2,-5.6,-1.6,-0.8],[-4.6,0.4,1.6],[-5,-7,-6]];
const cd8EffectorD14Sparse=[-7.4,2.8,-7,3,-6.8,2,-7.6,1.4,-7.4,0.6,-6.6,1.2,-6.4,-0.2,-7.4,-0.6,-7,-1,-6.6,-0.8,-6,-0.2,-5.6,-0.8,-7.2,-1.8,-6.4,-2,-5.8,-2.6,-5.2,-3,-4.8,-3.4,-4.6,-4.4,-5,-5.2,-5.6,-5.6,-5,-5.4,-2.6,6.3,-0.5,7.7,-0.1,6.9,-1.9,6,0.9,6,2.3,6,1.3,5.2,0.2,4.9,-2.3,4.4,-2.6,3.8,-1.5,4.1,-1.2,3,-2.6,1.9,-1.9,2.4,-0.5,1.9,1.6,4.1,2.7,3.8,0.6,3,2,2.7,3.4,2.4,3,1,2,0.8,0.6,-0.1,3.4,0.5,2.3,-0.6,-0.5,-0.6,-1.9,-2,3.4,-1.7,2.7,-2.6,3.4,-3.1,-0.8,-2.3,-1.5,-5,-0.1,-5.3,1.3,-5.3,2.3,-5.6,1.3,-6.2,5.1,-5.9,-2.6,-3.1,2.3,-3.7,2.3,-4.5,-5.1,-5.9];

const cd4CountLabels=[["3,618/8,000","2,731/8,000","3,040/8,000"],["1,280/8,000","1,520/8,000","880/8,000"],["1,816/8,000","2,480/8,000","3,280/8,000"],["1,280/8,000","1,252/8,000","780/8,000"]];
const cd4PercentLabels=[["45%","34%","38%"],["16%","19%","11%"],["23%","31%","41%"],["16%","16%","10%"]];
const cd8CountLabels=[["1,171/5,000","1,448/5,000","1,341/5,000"],["2,484/5,000","1,900/5,000","2,200/5,000"],["500/5,000","900/5,000","800/5,000"],["850/5,000","750/5,000","650/5,000"]];
const cd8PercentLabels=[["23%","29%","27%"],["50%","38%","44%"],["10%","18%","16%"],["17%","15%","13%"]];
const days=["d0","d7","d14-28"];
const populationNames=["naive","early-effector","central-memory","effector-memory"];
const rowLabelSigns=[["-","+"],["-","-"],["+","+"],["+","-"]];
const cd4XTicks=[-4,0,4,8];
const cd4XMinor=[-6,-2,2,6];
const cd4YTicks=[-10,-5,0,5,10];
const cd4YMinor=[-7.5,-2.5,2.5,7.5];
const cd8XTicks=[-5,0,5];
const cd8XMinor=[-7.5,-2.5,2.5];
const cd8YTicks=[-5,0,5];
const cd8YMinor=[-7.5,-2.5,2.5,7.5];

const NS="http://www.w3.org/2000/svg";
const popColors=["#00BFC4","#7CAE00","#F8766D","#C77CFF"];
const labelColors=["#14CBD0","#86B80E","#F97F76","#CE8BFF"];
const GRAY="#BDBDBD";
const DENSE_R=9.5,SPARSE_R=4.3,UNDER_R=7,TOP_R=3.5,GAP_R=3.6,LINK_GAP=1.7;

const cd4={id:"cd4",lefts:[274,520,766],overlayLefts:[272,518,764],width:235,xZero:108.6,xUnit:14.37,yZero:0.4894,yUnit:0.0482,
  xTicks:cd4XTicks,xMinor:cd4XMinor,yTicks:cd4YTicks,yMinor:cd4YMinor,counts:cd4CountLabels,percents:cd4PercentLabels,labelX:227,overlayLabelX:225,
  grayRows:cd4GrayRows,grayExtra:[cd4GrayD0Extra,cd4GrayD7Extra,cd4GrayD14Extra],grayGaps:cd4GrayGaps,
  dense:[[cd4NaiveD0Rows,cd4NaiveD7Rows,cd4NaiveD14Rows],[cd4EarlyD0Rows,cd4EarlyD7Rows,cd4EarlyD14Rows],[cd4CentralD0Rows,cd4CentralD7Rows,cd4CentralD14Rows],[cd4EffectorD0Rows,cd4EffectorD7Rows,cd4EffectorD14Rows]],
  sparse:[[cd4NaiveD0Sparse,cd4NaiveD7Sparse,cd4NaiveD14Sparse],[cd4EarlyD0Sparse,cd4EarlyD7Sparse,cd4EarlyD14Sparse],[cd4CentralD0Sparse,cd4CentralD7Sparse,cd4CentralD14Sparse],[cd4EffectorD0Sparse,cd4EffectorD7Sparse,cd4EffectorD14Sparse]],
  countAnchor:"end",overlayTop:1247,overlayHeight:230};
const cd8={id:"cd8",lefts:[1169,1417,1665],overlayLefts:[1168,1416,1663],width:237,xZero:125,xUnit:13.7,yZero:0.5,yUnit:0.0511,
  xTicks:cd8XTicks,xMinor:cd8XMinor,yTicks:cd8YTicks,yMinor:cd8YMinor,counts:cd8CountLabels,percents:cd8PercentLabels,labelX:1120,overlayLabelX:1118,
  grayRows:cd8GrayRows,grayExtra:[cd8GrayD0Extra,cd8GrayD7Extra,cd8GrayD14Extra],grayGaps:cd8GrayGaps,
  dense:[[cd8NaiveD0Rows,cd8NaiveD7Rows,cd8NaiveD14Rows],[cd8EarlyD0Rows,cd8EarlyD7Rows,cd8EarlyD14Rows],[cd8CentralD0Rows,cd8CentralD7Rows,cd8CentralD14Rows],[cd8EffectorD0Rows,cd8EffectorD7Rows,cd8EffectorD14Rows]],
  sparse:[[cd8NaiveD0Sparse,cd8NaiveD7Sparse,cd8NaiveD14Sparse],[cd8EarlyD0Sparse,cd8EarlyD7Sparse,cd8EarlyD14Sparse],[cd8CentralD0Sparse,cd8CentralD7Sparse,cd8CentralD14Sparse],[cd8EffectorD0Sparse,cd8EffectorD7Sparse,cd8EffectorD14Sparse]],
  countAnchor:"start",overlayTop:1245,overlayHeight:232};
const rowTops=[226,473,720,967];
const ROW_H=235;
const rowLabelCenters=[332,572,835,1091];
const overlayDenseOrders=[[0,1,2,3],[0,1,2,3],[0,1,3,2]];
const root=document.getElementById("panels");

function svgEl(tag,attrs,parent,name){
  const e=document.createElementNS(NS,tag);
  for(const k in attrs)e.setAttribute(k,attrs[k]);
  
  
  parent.appendChild(e);
  return e;
}
function xAxis(co,left){return v=>left+co.xZero+v*co.xUnit;}
function yAxis(co,top,h){return v=>top+h*co.yZero-v*h*co.yUnit;}
function dot(g,x,y,r,color,name){svgEl("circle",{cx:x.toFixed(1),cy:y.toFixed(1),r:r,fill:color},g,name);}
function drawRows(g,rows,sx,sy,color,name){
  rows.forEach(row=>{
    const y=sy(row[0]);
    for(let i=1;i<row.length;i++){
      dot(g,sx(row[i]),y,DENSE_R,color,name);
      if(i>1&&Math.abs(row[i]-row[i-1])<=LINK_GAP){
        svgEl("line",{x1:sx(row[i-1]).toFixed(1),x2:sx(row[i]).toFixed(1),y1:y.toFixed(1),y2:y.toFixed(1),stroke:color,"stroke-width":DENSE_R*2},g,name+"-link");
      }
    }
  });
}
function drawPairs(g,pairs,sx,sy,r,color,name){
  for(let i=0;i+1<pairs.length;i+=2)dot(g,sx(pairs[i]),sy(pairs[i+1]),r,color,name);
}
function frame(co,g,left,top,h){
  const sx=xAxis(co,left),sy=yAxis(co,top,h),w=co.width;
  svgEl("rect",{x:left,y:top,width:w,height:h,fill:"#fff"},g,"panel-background");
  co.xMinor.forEach(v=>svgEl("line",{x1:sx(v),x2:sx(v),y1:top,y2:top+h,stroke:"#f2f2f2","stroke-width":1},g,"x-minor-gridline"));
  co.yMinor.forEach(v=>svgEl("line",{x1:left,x2:left+w,y1:sy(v),y2:sy(v),stroke:"#f2f2f2","stroke-width":1},g,"y-minor-gridline"));
  co.xTicks.forEach(v=>svgEl("line",{x1:sx(v),x2:sx(v),y1:top,y2:top+h,stroke:"#ebebeb","stroke-width":2},g,"x-major-gridline"));
  co.yTicks.forEach(v=>svgEl("line",{x1:left,x2:left+w,y1:sy(v),y2:sy(v),stroke:"#ebebeb","stroke-width":2},g,"y-major-gridline"));
  return [sx,sy];
}
function border(g,left,top,w,h){
  svgEl("rect",{x:left,y:top,width:w,height:h,fill:"none",stroke:"#6f6f6f","stroke-width":1.8},g,"panel-border");
}
function yTicks(co,g,left,top,h){
  const sy=yAxis(co,top,h);
  co.yTicks.forEach(v=>{
    svgEl("line",{x1:left-4,x2:left,y1:sy(v),y2:sy(v),stroke:"#444","stroke-width":1.4},g,"y-tick");
    const t=svgEl("text",{x:left-7,y:sy(v)+6,"text-anchor":"end","font-size":16,fill:"#555",class:"nar"},g,"y-tick-label");
    t.textContent=String(v);
  });
}
function xTicks(co,g,left,bottom){
  const sx=xAxis(co,left);
  co.xTicks.forEach(v=>{
    svgEl("line",{x1:sx(v),x2:sx(v),y1:bottom,y2:bottom+4,stroke:"#444","stroke-width":1.4},g,"x-tick");
    const t=svgEl("text",{x:sx(v),y:bottom+23,"text-anchor":"middle","font-size":16,fill:"#555",class:"nar"},g,"x-tick-label");
    t.textContent=String(v);
  });
}
function rowLabel(g,x,cy,signs,color){
  const t=svgEl("text",{transform:"translate("+x+","+cy+") rotate(-90)","text-anchor":"middle","font-size":24,fill:color},g,"row-label");
  const parts=[["CD45RO",0],[signs[0],1],["CD27",0],[signs[1],1]];
  parts.forEach(p=>{
    const s=document.createElementNS(NS,"tspan");
    
    
    s.setAttribute("font-size",p[1]?15:24);
    s.setAttribute("dy",p[1]?-9:(p[0]==="CD27"?9:0));
    s.textContent=p[0];
    t.appendChild(s);
  });
}
function buildCohort(co){
  const cohortGroup=svgEl("g",{},root,co.id+"-panels");
  rowTops.forEach((top,r)=>{
    const rowGroup=svgEl("g",{},cohortGroup,co.id+"-row-"+populationNames[r]);
    rowLabel(rowGroup,co.labelX,rowLabelCenters[r],rowLabelSigns[r],labelColors[r]);
    co.lefts.forEach((left,c)=>{
      const g=svgEl("g",{},rowGroup,co.id+"-"+populationNames[r]+"-"+days[c]+"-panel");
      const s=frame(co,g,left,top,ROW_H),sx=s[0],sy=s[1];
      drawRows(g,co.grayRows,sx,sy,GRAY,"background-cell");
      drawPairs(g,co.grayExtra[c],sx,sy,DENSE_R,GRAY,"background-cell");
      drawPairs(g,co.grayGaps,sx,sy,GAP_R,"#fff","cloud-gap");
      drawRows(g,co.dense[r][c],sx,sy,popColors[r],populationNames[r]+"-cell-mass");
      drawPairs(g,co.sparse[r][c],sx,sy,SPARSE_R,popColors[r],populationNames[r]+"-cell");
      border(g,left,top,co.width,ROW_H);
      const cx=co.countAnchor==="end"?left+co.width-9:left+6;
      const ct=svgEl("text",{x:cx,y:top+22,"text-anchor":co.countAnchor,"font-size":21.5,"font-style":"italic",fill:"#333"},g,"cell-count");
      ct.textContent=co.counts[r][c];
      const pt=svgEl("text",{x:left+4,y:top+ROW_H-6,"font-size":24,"font-weight":"bold",fill:"#111"},g,"percent-label");
      pt.textContent=co.percents[r][c];
      if(c===0)yTicks(co,g,left,top,ROW_H);
      if(r===3)xTicks(co,g,left,top+ROW_H);
    });
  });
  const ov=svgEl("g",{},cohortGroup,co.id+"-overlay-row");
  const ol=svgEl("text",{transform:"translate("+co.overlayLabelX+",1359) rotate(-90)","text-anchor":"middle","font-size":24,fill:"#7d7d7d",textLength:92,lengthAdjust:"spacingAndGlyphs"},ov,"overlay-label");
  ol.textContent="Overlay";
  const sparseOrder=[0,1,2,3];
  co.overlayLefts.forEach((left,c)=>{
    const g=svgEl("g",{},ov,co.id+"-overlay-"+days[c]+"-panel");
    const s=frame(co,g,left,co.overlayTop,co.overlayHeight),sx=s[0],sy=s[1];
    sparseOrder.forEach(p=>drawPairs(g,co.sparse[p][c],sx,sy,UNDER_R,popColors[p],populationNames[p]+"-cell-halo"));
    overlayDenseOrders[c].forEach(p=>drawRows(g,co.dense[p][c],sx,sy,popColors[p],populationNames[p]+"-cell-mass"));
    sparseOrder.forEach(p=>drawPairs(g,co.sparse[p][c],sx,sy,TOP_R,popColors[p],populationNames[p]+"-cell"));
    border(g,left,co.overlayTop,co.width,co.overlayHeight);
    if(c===0)yTicks(co,g,left,co.overlayTop,co.overlayHeight);
    xTicks(co,g,left,co.overlayTop+co.overlayHeight);
  });
}
buildCohort(cd4);
buildCohort(cd8);
</script>
</body>
</html>
